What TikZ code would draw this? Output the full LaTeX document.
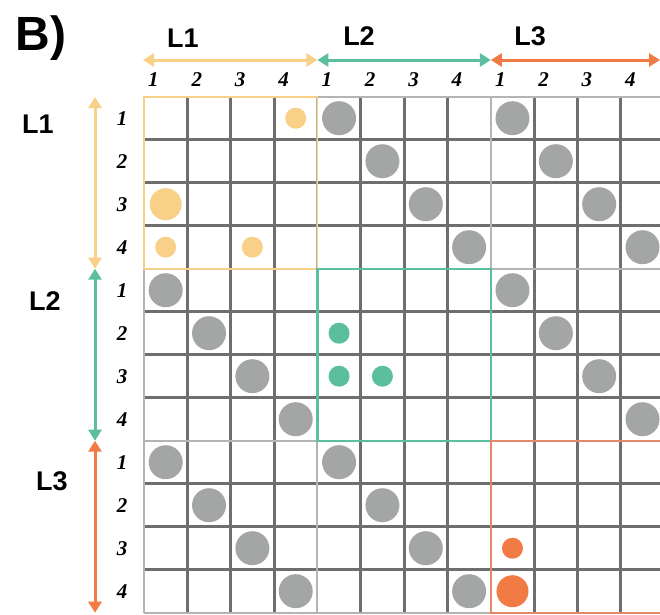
\documentclass[tikz,border=0pt]{standalone}
\usepackage{fontspec}
\setmainfont{Liberation Serif}
\setsansfont{Liberation Sans}
\definecolor{cellline}{RGB}{110,110,110}
\definecolor{blockline}{RGB}{180,180,180}
\definecolor{dotgray}{RGB}{164,166,165}
\definecolor{lvyellow}{RGB}{249,208,136}
\definecolor{lvteal}{RGB}{91,191,159}
\definecolor{lvorange}{RGB}{242,122,69}
\definecolor{lvorangeline}{RGB}{228,136,106}
\usepackage{tikz}
\usetikzlibrary{arrows.meta, positioning}

\begin{document}
\begin{tikzpicture}[x=1pt, y=-1pt,
    lvlab/.style={font=\sffamily\bfseries\fontsize{27}{27}\selectfont, inner sep=0pt, anchor=base},
    idx/.style={font=\bfseries\itshape\fontsize{21}{21}\selectfont, inner sep=0pt},
    span/.style={{Triangle[length=11pt,width=13pt]}-{Triangle[length=11pt,width=13pt]}, line width=3pt},
    hit/.style={circle, fill=dotgray, minimum size=34pt, inner sep=0pt},
    small/.style={circle, minimum size=21pt, inner sep=0pt},
    big/.style={circle, minimum size=32pt, inner sep=0pt},
  ]
    \clip (0,0) rectangle (660,614);
    \fill[white] (0,0) rectangle (660,614);

    % cell centres
    \foreach \r in {1,...,12}{
      \foreach \c in {1,...,12}{
        \coordinate (c\r-\c) at ({144+(\c-0.5)*43.35},{96.7+(\r-0.5)*43});
      }
    }

    % grid
    \foreach \k in {1,2,3,5,6,7,9,10,11}{
      \draw[cellline, line width=3pt] ({144+\k*43.35},96.7) -- ({144+\k*43.35},612.7);
      \draw[cellline, line width=3pt] (144,{96.7+\k*43}) -- (664.2,{96.7+\k*43});
    }
    \foreach \k in {0,4,8,12}{
      \draw[blockline, line width=2pt] ({144+\k*43.35},96.7) -- ({144+\k*43.35},612.7);
      \draw[blockline, line width=2pt] (144,{96.7+\k*43}) -- (664.2,{96.7+\k*43});
    }
    \draw[lvyellow, line width=1.6pt] (144,96.7) rectangle (317.4,268.7);
    \draw[lvteal, line width=2.2pt] (317.4,268.7) rectangle (490.8,440.7);
    \draw[lvorangeline, line width=2.2pt] (490.8,440.7) rectangle (664.2,612.7);

    % off-diagonal blocks
    \foreach \bi in {0,1,2}{
      \foreach \bj in {0,1,2}{
        \ifnum\bi=\bj\relax\else
          \foreach \k in {1,...,4}{
            \pgfmathtruncatemacro{\rr}{4*\bi+\k}
            \pgfmathtruncatemacro{\cc}{4*\bj+\k}
            \node[hit] (g\rr-\cc) at (c\rr-\cc) {};
          }
        \fi
      }
    }

    % diagonal blocks
    \node[small, fill=lvyellow] (y1-4) at (c1-4) {};
    \node[big, fill=lvyellow] (y3-1) at (c3-1) {};
    \node[small, fill=lvyellow] (y4-1) at (c4-1) {};
    \node[small, fill=lvyellow] (y4-3) at (c4-3) {};
    \node[small, fill=lvteal] (t6-5) at (c6-5) {};
    \node[small, fill=lvteal] (t7-5) at (c7-5) {};
    \node[small, fill=lvteal] (t7-6) at (c7-6) {};
    \node[small, fill=lvorange] (o11-9) at (c11-9) {};
    \node[big, fill=lvorange] (o12-9) at (c12-9) {};

    % indices
    \foreach \c in {1,...,12}{
      \pgfmathtruncatemacro{\n}{mod(\c-1,4)+1}
      \node[idx, anchor=west] (ci\c) at ({144+(\c-1)*43.35+4},80) {\n};
    }
    \foreach \r in {1,...,12}{
      \pgfmathtruncatemacro{\n}{mod(\r-1,4)+1}
      \node[idx] (ri\r) at (122,{96.7+(\r-0.5)*43}) {\n};
    }

    % spans
    \coordinate (h0) at (143,60);
    \coordinate (h1) at (317.4,60);
    \coordinate (h2) at (490.8,60);
    \coordinate (h3) at (660,60);
    \draw[span, lvyellow] (h0) -- (h1);
    \draw[span, lvteal] (h1) -- (h2);
    \draw[span, lvorange] (h2) -- (h3);
    \coordinate (v0) at (95,97);
    \coordinate (v1) at (95,268.7);
    \coordinate (v2) at (95,440.7);
    \coordinate (v3) at (95,612.7);
    \draw[span, lvyellow] (v0) -- (v1);
    \draw[span, lvteal] (v1) -- (v2);
    \draw[span, lvorange] (v2) -- (v3);

    % labels
    \node[font=\sffamily\bfseries\fontsize{48}{48}\selectfont, inner sep=0pt, anchor=base] (title) at (41,50) {B)};
    \node[lvlab] (tl1) at (183,47) {L1};
    \node[lvlab] (tl2) at (359,45) {L2};
    \node[lvlab] (tl3) at (530,45) {L3};
    \node[lvlab] (sl1) at (38,133) {L1};
    \node[lvlab] (sl2) at (45,310) {L2};
    \node[lvlab] (sl3) at (52,490) {L3};
  \end{tikzpicture}
\end{document}
